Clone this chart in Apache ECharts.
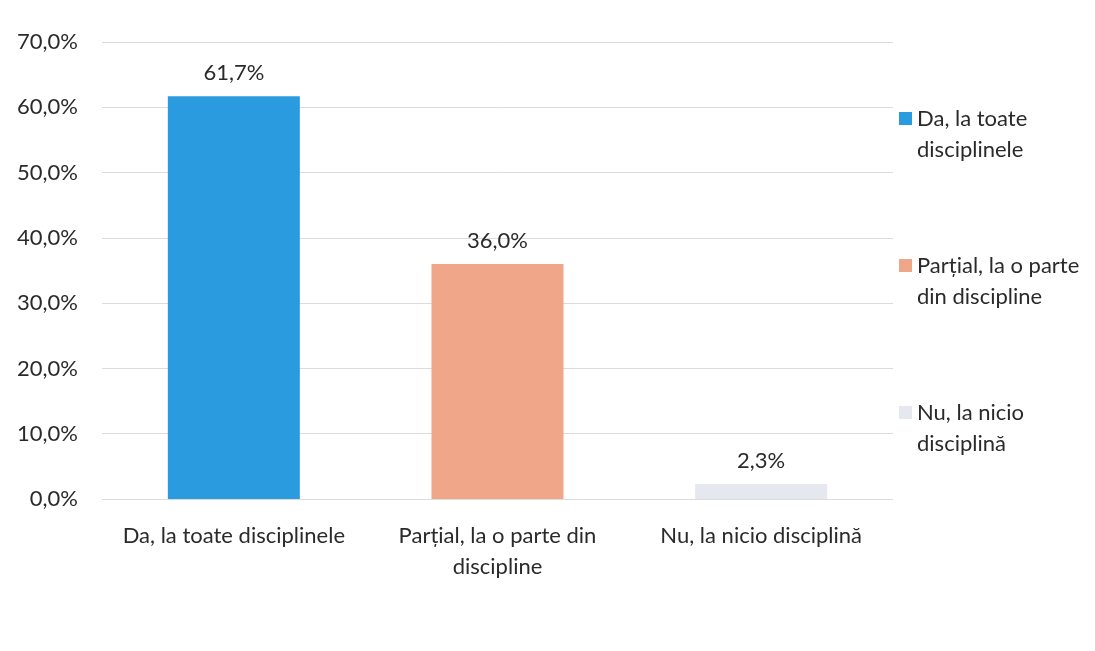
<!DOCTYPE html>
<html>
<head>
<meta charset="utf-8">
<script src="https://cdn.jsdelivr.net/npm/echarts@6/dist/echarts.min.js"></script>
<style>
  html, body { margin: 0; padding: 0; background: #fff; }
  #chart { width: 1095px; height: 651px; }
</style>
</head>
<body>
<div id="chart"></div>
<script>
const categories = ['Da, la toate disciplinele', 'Parțial, la o parte din discipline', 'Nu, la nicio disciplină'];
const axisLabels = ['Da, la toate disciplinele', 'Parțial, la o parte din\ndiscipline', 'Nu, la nicio disciplină'];
const legendLabels = ['Da, la toate\ndisciplinele', 'Parțial, la o parte\ndin discipline', 'Nu, la nicio\ndisciplină'];
const values = [61.7, 36.0, 2.3];
const colors = ['#2b9be0', '#f0a688', '#e6e8ef'];

const fmt = v => v.toFixed(1).replace('.', ',') + '%';
const font = 'Lato';
const size = 22;

const chart = echarts.init(document.getElementById('chart'));

// one series per category so the legend lists each bar
const series = categories.map((name, i) => ({
  type: 'bar',
  name,
  stack: 'all',
  barWidth: 132,
  data: values.map((v, j) => (j === i ? v : null)),
  itemStyle: { color: colors[i] },
  label: {
    show: true,
    position: 'top',
    distance: 12,
    color: '#2a2a2a',
    fontFamily: font,
    fontSize: size,
    formatter: p => fmt(p.value),
  },
}));

chart.setOption({
  backgroundColor: '#fff',
  animation: false,
  grid: { left: 102, right: 202, top: 42, bottom: 152 },
  legend: {
    orient: 'vertical',
    left: 894,
    top: 67,
    itemWidth: 13,
    itemHeight: 13,
    itemGap: 54,
    icon: 'rect',
    data: categories,
    // blank first line so the icon sits beside the first text line
    formatter: name => ' \n' + legendLabels[categories.indexOf(name)],
    textStyle: {
      fontFamily: font,
      fontSize: size,
      color: '#2a2a2a',
      lineHeight: 31,
    },
  },
  xAxis: {
    type: 'category',
    data: categories,
    axisLine: { show: false },
    axisTick: { show: false },
    axisLabel: {
      interval: 0,
      margin: 21,
      fontFamily: font,
      fontSize: size,
      color: '#2a2a2a',
      lineHeight: 31,
      formatter: (v, i) => axisLabels[i],
    },
  },
  yAxis: {
    type: 'value',
    min: 0,
    max: 70,
    interval: 10,
    axisLine: { show: false },
    axisTick: { show: false },
    splitLine: { lineStyle: { color: '#dcdcdc' } },
    axisLabel: {
      margin: 24,
      fontFamily: font,
      fontSize: size,
      color: '#2a2a2a',
      formatter: v => fmt(v),
    },
  },
  series,
});
</script>
</body>
</html>
